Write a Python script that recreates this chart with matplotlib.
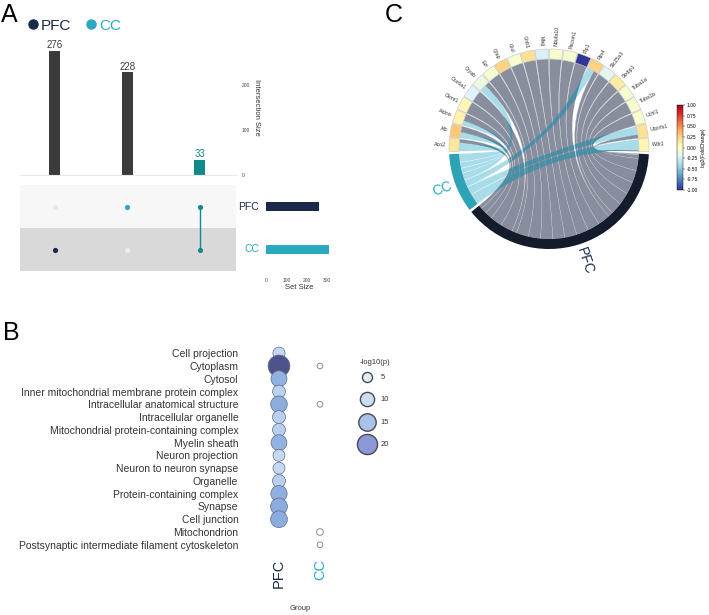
import numpy as np
import matplotlib
matplotlib.use("Agg")
import matplotlib.pyplot as plt
from matplotlib.path import Path
from matplotlib.patches import PathPatch, Wedge
from matplotlib.colors import LinearSegmentedColormap, Normalize
from matplotlib.lines import Line2D
from matplotlib.cm import ScalarMappable

plt.rcParams['font.family'] = ['Liberation Sans', 'DejaVu Sans']

W, H = 709, 615

# ---------------- panel A: upset data ----------------
set_names = ['PFC', 'CC']
set_sizes = [261, 309]
inter_sizes = [276, 228, 33]
inter_pfc = [0, 1, 1]
inter_cc = [1, 0, 1]

# ---------------- panel B: GO bubble data ----------------
go_terms = ['Cell projection', 'Cytoplasm', 'Cytosol',
            'Inner mitochondrial membrane protein complex',
            'Intracellular anatomical structure', 'Intracellular organelle',
            'Mitochondrial protein-containing complex', 'Myelin sheath',
            'Neuron projection', 'Neuron to neuron synapse', 'Organelle',
            'Protein-containing complex', 'Synapse', 'Cell junction',
            'Mitochondrion', 'Postsynaptic intermediate filament cytoskeleton']
pfc_logp = [7.3, 23.5, 12.6, 8.0, 13.5, 8.3, 8.3, 12.3, 7.0, 7.0, 8.3, 13.0,
            13.9, 13.9, np.nan, np.nan]
cc_logp = [np.nan, 1.6, np.nan, np.nan, 1.6, np.nan, np.nan, np.nan, np.nan,
           np.nan, np.nan, np.nan, np.nan, np.nan, 2.2, 1.6]
legend_vals = [5, 10, 15, 20]

# ---------------- panel C: chord data ----------------
genes = ['Aco2', 'Alb', 'Aldoa', 'Ckmt1', 'Cox6a1', 'Cryab', 'Ezr', 'Gfap',
         'Glul', 'Gnb1', 'Mag', 'Ndufa10', 'Pacsin1', 'Plp1', 'Rtn4',
         'Slc25a3', 'Stxbp1', 'Tuba1a', 'Tuba1b', 'Uchl1', 'Uqcrfs1', 'Wdr1']
log2fc = [0.15, 0.3, 0.08, 0.05, -0.2, -0.12, -0.05, 0.25, -0.05, 0.2, -0.22,
          -0.05, -0.06, -1.0, 0.25, -0.15, 0.12, -0.05, -0.05, -0.05, 0.18, 0.06]
pfc_link = [0.3, 0.5, 0.6, 1, 1, 0.4, 1, 1, 1, 1, 1, 1, 1, 1, 0.4,
            1, 1, 1, 1, 1, 0.3, 0.1]
cc_link = [0.7, 0.5, 0.4, 0, 0, 0.6, 0, 0, 0, 0, 0, 0, 0, 0, 0.6,
           0, 0, 0, 0, 0, 0.7, 0.9]

navy = '#18294b'
cyan = '#2aa9c1'
teal = '#14898a'
bar_gray = '#3b3b3b'

fig = plt.figure(figsize=(W / 100, H / 100), dpi=100)


def px_axes(x0, y0, x1, y1):
    return fig.add_axes([x0 / W, 1 - y1 / H, (x1 - x0) / W, (y1 - y0) / H])


# ==========================================================
# A: upset plot
# ==========================================================
col_colors = [navy, cyan, teal]
bar_colors = [bar_gray, bar_gray, teal]
xs = np.arange(len(inter_sizes))

axA = px_axes(20, 40, 236, 175)
axA.bar(xs, inter_sizes, width=0.15, color=bar_colors)
for x, v, c in zip(xs, inter_sizes, bar_colors):
    axA.text(x, v + 2, str(v), ha='center', va='bottom', fontsize=7, color=c)
axA.set_xlim(-0.48, 2.5)
axA.set_ylim(0, 300)
for s in ['top', 'left', 'right']:
    axA.spines[s].set_visible(False)
axA.spines['bottom'].set_color('#e8e8e8')
axA.set_xticks([])
axA.yaxis.tick_right()
axA.set_yticks([0, 100, 200])
axA.tick_params(axis='y', length=0, labelsize=3.5, labelcolor='#444444', pad=4)
axA.yaxis.set_label_position('right')
axA.set_ylabel('Intersection Size', rotation=270, fontsize=5.5,
               color='#333333', labelpad=7)

axM = px_axes(20, 185, 236, 271)
axM.axhspan(0.5, 1.5, color='#f7f7f7', lw=0)
axM.axhspan(-0.5, 0.5, color='#d9d9d9', lw=0)
for x, p, c, col in zip(xs, inter_pfc, inter_cc, col_colors):
    if p and c:
        axM.plot([x, x], [0, 1], color=col, lw=1.0, zorder=2)
    axM.scatter([x], [1], s=14, color=col if p else '#e9e9e9', zorder=3, lw=0)
    axM.scatter([x], [0], s=14, color=col if c else '#ececec', zorder=3, lw=0)
axM.set_xlim(-0.48, 2.5)
axM.set_ylim(-0.5, 1.5)
axM.axis('off')

axS = px_axes(266, 185, 333, 271)
axS.barh([1, 0], set_sizes, height=0.2, color=[navy, cyan])
axS.set_xlim(0, 330)
axS.set_ylim(-0.5, 1.5)
for s in axS.spines.values():
    s.set_visible(False)
axS.set_yticks([])
axS.set_xticks([0, 100, 200, 300])
axS.tick_params(axis='x', length=0, labelsize=3.5, labelcolor='#444444', pad=5)
axS.set_xlabel('Set Size', fontsize=5.5, color='#333333', labelpad=1)
axS.text(-0.1, 1, set_names[0], transform=axS.get_yaxis_transform(),
         ha='right', va='center', fontsize=7.5, color=navy)
axS.text(-0.1, 0, set_names[1], transform=axS.get_yaxis_transform(),
         ha='right', va='center', fontsize=7.5, color=cyan)

handles = [Line2D([], [], marker='o', ls='', color=navy, ms=6.5),
           Line2D([], [], marker='o', ls='', color=cyan, ms=6.5)]
leg = fig.legend(handles, set_names, ncol=2, loc='upper left',
                 bbox_to_anchor=(18 / W, 1 - 11 / H), frameon=False,
                 fontsize=11, handletextpad=0.0, columnspacing=0.8,
                 handlelength=1.0, borderpad=0)
for t, c in zip(leg.get_texts(), [navy, cyan]):
    t.set_color(c)

# ==========================================================
# B: bubble plot
# ==========================================================
bub_cmap = LinearSegmentedColormap.from_list(
    'bub', ['#eef5fc', '#cfe1f4', '#93b3e2', '#7d9bd8', '#4b4d85'])
bub_norm = Normalize(0, 24)
legend_colors = ['#e3edf8', '#cadef2', '#a8c2ea', '#8c98d7']
size_k = 10.5

axB = px_axes(255, 343, 345, 555)
ys = np.arange(len(go_terms))
pv = np.array(pfc_logp)
cv = np.array(cc_logp)
m = ~np.isnan(pv)
axB.scatter(np.zeros(m.sum()), ys[m], s=pv[m] * size_k,
            c=bub_cmap(bub_norm(pv[m])), edgecolors='#5d6b8a', linewidths=0.5)
m = ~np.isnan(cv)
axB.scatter(np.ones(m.sum()), ys[m], s=cv[m] * size_k, c='white',
            edgecolors='#7a7a7a', linewidths=0.6)
axB.set_xlim(-0.585, 1.61)
axB.set_ylim(len(go_terms) - 0.2, -0.8)
for s in axB.spines.values():
    s.set_visible(False)
axB.set_yticks(ys)
axB.set_yticklabels(go_terms, fontsize=7.5, color='#333333')
axB.set_xticks([0, 1])
axB.set_xticklabels(['PFC', 'CC'], rotation=90, fontsize=10.5)
for t, c in zip(axB.get_xticklabels(), [navy, cyan]):
    t.set_color(c)
axB.tick_params(length=0)
axB.tick_params(axis='y', pad=12)
axB.tick_params(axis='x', pad=3)
axB.set_xlabel('Group', fontsize=5.5, color='#333333', labelpad=12)

lh = [axB.scatter([], [], s=v * size_k, color=c, edgecolors='#4a4a55',
                  linewidths=1.0) for v, c in zip(legend_vals, legend_colors)]
bleg = axB.legend(lh, [str(v) for v in legend_vals],
                  loc='upper left', bbox_to_anchor=(356 / W, 1 - 370 / H),
                  bbox_transform=fig.transFigure, frameon=False, fontsize=5.5,
                  labelspacing=1.95, handletextpad=0.7, borderpad=0)
for t in bleg.get_texts():
    t.set_color('#333333')
fig.text(375 / W, 1 - 362 / H, '-log10(p)', ha='center', va='center',
         fontsize=5.5, color='#333333')

# ==========================================================
# C: chord diagram
# ==========================================================
axC = px_axes(414, 14, 684, 284)
axC.set_xlim(-1.35, 1.35)
axC.set_ylim(-1.35, 1.35)
axC.set_aspect('equal')
axC.axis('off')

fc_cmap = plt.get_cmap('RdYlBu_r')
fc_norm = Normalize(-1, 1)

gap = 0.5
r_in, r_out = 0.9, 1.0
p_tot = sum(pfc_link)
c_tot = sum(cc_link)
n_sec = len(genes) + 2
scale = (360 - gap * n_sec - 3) / (2 * (p_tot + c_tot))

ang = 181.5
gene_spans = []
for p, c in zip(pfc_link, cc_link):
    w = (p + c) * scale
    gene_spans.append((ang, ang - w))
    ang -= w + gap
ang -= 1.0
pfc_span = (ang, ang - p_tot * scale)
ang -= p_tot * scale + gap + 1.0
cc_span = (ang, ang - c_tot * scale)


def arc_pts(t1, t2, r, n=40):
    t = np.radians(np.linspace(t1, t2, n))
    return np.column_stack([r * np.cos(t), r * np.sin(t)])


def ribbon(s_hi, s_lo, t_hi, t_lo, r=r_in):
    pa = arc_pts(s_hi, s_lo, r)
    pb = arc_pts(t_hi, t_lo, r)
    verts = list(pa) + [(0, 0), pb[0]] + list(pb[1:]) + [(0, 0), pa[0], pa[0]]
    codes = ([Path.MOVETO] + [Path.LINETO] * (len(pa) - 1)
             + [Path.CURVE3, Path.CURVE3] + [Path.LINETO] * (len(pb) - 1)
             + [Path.CURVE3, Path.CURVE3, Path.CLOSEPOLY])
    return Path(verts, codes)


# link end positions
p_pos = pfc_span[0]
c_pos = cc_span[0]
gray_paths, blue_paths = [], []
for i in reversed(range(len(genes))):
    g_hi, g_lo = gene_spans[i]
    c_w = cc_link[i] * scale
    p_w = pfc_link[i] * scale
    if p_w > 0:
        gray_paths.append(ribbon(g_hi - c_w, g_lo, p_pos, p_pos - p_w))
        p_pos -= p_w
    if c_w > 0:
        blue_paths.append(ribbon(g_hi, g_hi - c_w, c_pos, c_pos - c_w))
        c_pos -= c_w

for bp in blue_paths:
    axC.add_patch(PathPatch(bp, fc='#a9dce9', ec='white', lw=0.2, zorder=1))
gray_patches = []
for gp in gray_paths:
    gpatch = PathPatch(gp, fc='#898e9f', ec='#c9ccd4', lw=0.2, zorder=2)
    axC.add_patch(gpatch)
    gray_patches.append(gpatch)
for bp in blue_paths:
    for gpatch in gray_patches:
        over = PathPatch(bp, fc='#4a8ea5', ec='none', zorder=3)
        axC.add_patch(over)
        over.set_clip_path(gpatch)

for name, fc, (hi, lo) in zip(genes, log2fc, gene_spans):
    axC.add_patch(Wedge((0, 0), r_out, lo, hi, width=r_out - r_in,
                        fc=fc_cmap(fc_norm(fc)), ec='#c4c4c4', lw=0.4, zorder=4))
    mid = (hi + lo) / 2
    rad = np.radians(mid)
    rot = mid if -90 <= mid <= 90 else mid - 180
    ha = 'left' if -90 <= mid <= 90 else 'right'
    axC.text(1.03 * np.cos(rad), 1.03 * np.sin(rad), name, rotation=rot,
             rotation_mode='anchor', ha=ha, va='center', fontsize=3.8,
             color='#333333')

axC.add_patch(Wedge((0, 0), r_out, pfc_span[1], pfc_span[0],
                    width=r_out - r_in, fc='#141b2b', ec='none', zorder=4))
axC.add_patch(Wedge((0, 0), r_out, cc_span[1], cc_span[0],
                    width=r_out - r_in, fc='#2ea3b6', ec='none', zorder=4))

for label, (hi, lo), col in [('PFC', pfc_span, navy), ('CC', cc_span, cyan)]:
    mid = (hi + lo) / 2
    rad = np.radians(mid)
    rot = mid if -90 <= mid <= 90 else mid - 180
    ha = 'left' if -90 <= mid <= 90 else 'right'
    axC.text(1.04 * np.cos(rad), 1.04 * np.sin(rad), label, rotation=rot,
             rotation_mode='anchor', ha=ha, va='center', fontsize=10,
             color=col)

cax = px_axes(677, 105, 683, 190)
cb = fig.colorbar(ScalarMappable(norm=fc_norm, cmap=fc_cmap), cax=cax)
cb.set_ticks(np.arange(-1, 1.01, 0.25))
cb.ax.yaxis.set_major_formatter(matplotlib.ticker.FormatStrFormatter('%.2f'))
cb.ax.tick_params(labelsize=3.5, length=1.5, width=0.3, pad=1)
cb.outline.set_linewidth(0.3)
cb.set_label('log2(FoldChange)', fontsize=3.5, labelpad=2)

# panel letters
fig.text(1 / W, 1 - 3 / H, 'A', fontsize=18, va='top', ha='left')
fig.text(3 / W, 1 - 321 / H, 'B', fontsize=18, va='top', ha='left')
fig.text(385 / W, 1 - 3 / H, 'C', fontsize=18, va='top', ha='left')

fig.savefig('out.png', dpi=100)
